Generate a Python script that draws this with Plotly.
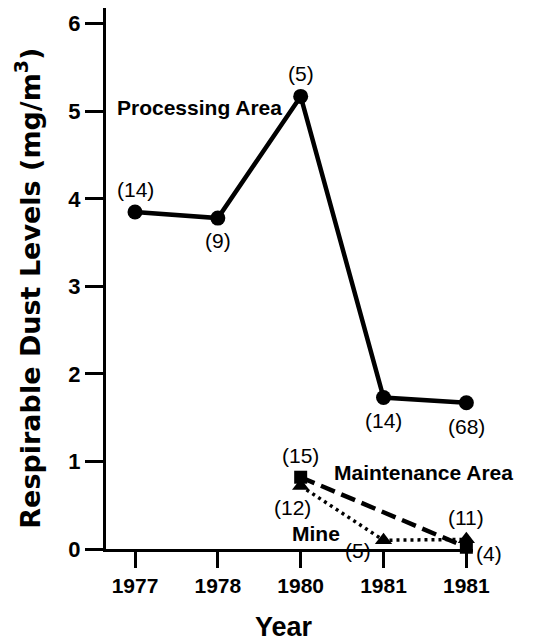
import plotly.graph_objects as go

year_labels = ["1977", "1978", "1980", "1981", "1981"]
x_index = [0, 1, 2, 3, 4]

processing_x = [0, 1, 2, 3, 4]
processing_y = [3.85, 3.78, 5.17, 1.73, 1.67]
processing_n = ["(14)", "(9)", "(5)", "(14)", "(68)"]

maintenance_x = [2, 4]
maintenance_y = [0.82, 0.02]
maintenance_n = ["(15)", "(4)"]

mine_x = [2, 3, 4]
mine_y = [0.72, 0.10, 0.11]
mine_n = ["(12)", "(5)", "(11)"]

FONT = "Liberation Sans, Arial, Helvetica, sans-serif"
WIDE = "DejaVu Sans, Liberation Sans, Arial, sans-serif"

fig = go.Figure()
fig.add_trace(go.Scatter(x=processing_x, y=processing_y, mode="lines+markers",
                         line=dict(color="black", width=4.5),
                         marker=dict(symbol="circle", size=15, color="black"),
                         cliponaxis=False, showlegend=False))
fig.add_trace(go.Scatter(x=maintenance_x, y=maintenance_y, mode="lines+markers",
                         line=dict(color="black", width=4.5, dash="15px,7px"),
                         marker=dict(symbol="square", size=13, color="black"),
                         cliponaxis=False, showlegend=False))
fig.add_trace(go.Scatter(x=mine_x, y=mine_y, mode="lines+markers",
                         line=dict(color="black", width=3.5, dash="3px,4px"),
                         marker=dict(symbol="triangle-up", size=15, color="black"),
                         cliponaxis=False, showlegend=False))

lab_font = dict(family=FONT, size=21, color="black")
# offsets (dx, dy) in pixels for count labels
proc_off = [(0, 22), (0, -22), (0, 23), (0, -23), (0, -24)]
maint_off = [(0, 22), (23, -6)]
mine_off = [(-8, -22), (-26, -10), (0, 22)]
for xs, ys, ns, offs in [(processing_x, processing_y, processing_n, proc_off),
                         (maintenance_x, maintenance_y, maintenance_n, maint_off),
                         (mine_x, mine_y, mine_n, mine_off)]:
    for xv, yv, t, (dx, dy) in zip(xs, ys, ns, offs):
        fig.add_annotation(x=xv, y=yv, text=t, showarrow=False, font=lab_font,
                           xshift=dx, yshift=dy, xanchor="center", yanchor="middle")

name_font = dict(family=FONT, size=21, color="black")
fig.add_annotation(x=0.78, y=5.04, text="<b>Processing Area</b>", showarrow=False, font=name_font)
fig.add_annotation(x=3.48, y=0.87, text="<b>Maintenance Area</b>", showarrow=False, font=name_font)
fig.add_annotation(x=2.19, y=0.18, text="<b>Mine</b>", showarrow=False, font=name_font)

# axis titles
fig.add_annotation(xref="paper", yref="paper", x=-0.214, y=0.482, textangle=-90,
                   text="<b>Respirable Dust Levels (mg/m<sup>3</sup>)</b>", showarrow=False,
                   font=dict(family=WIDE, size=27, color="black"),
                   xanchor="center", yanchor="middle")
fig.add_annotation(xref="paper", yref="paper", x=0.485, y=-0.144,
                   text="<b>Year</b>", showarrow=False,
                   font=dict(family=FONT, size=27, color="black"),
                   xanchor="center", yanchor="middle")

# page body adds an 8px offset, so the figure is sized to fit the window
fig.update_layout(
    width=534, height=634,
    margin=dict(l=98, r=69, t=0, b=93),
    paper_bgcolor="white", plot_bgcolor="white",
    font=dict(family=FONT, color="black"),
    xaxis=dict(range=[-0.35, 4.08], tickvals=x_index, ticktext=year_labels, automargin=False,
               showgrid=False, zeroline=False, showline=True, linecolor="black", linewidth=3,
               ticks="outside", ticklen=16, tickwidth=3, tickcolor="black",
               tickfont=dict(family=FONT, size=21, color="black", weight="bold")),
    yaxis=dict(range=[0, 6.18], tickvals=[0, 1, 2, 3, 4, 5, 6], automargin=False,
               showgrid=False, zeroline=False, showline=True, linecolor="black", linewidth=3,
               ticks="outside", ticklen=18, tickwidth=3, tickcolor="black",
               tickfont=dict(family=FONT, size=22, color="black", weight="bold")),
)

fig.write_html("out.html")
